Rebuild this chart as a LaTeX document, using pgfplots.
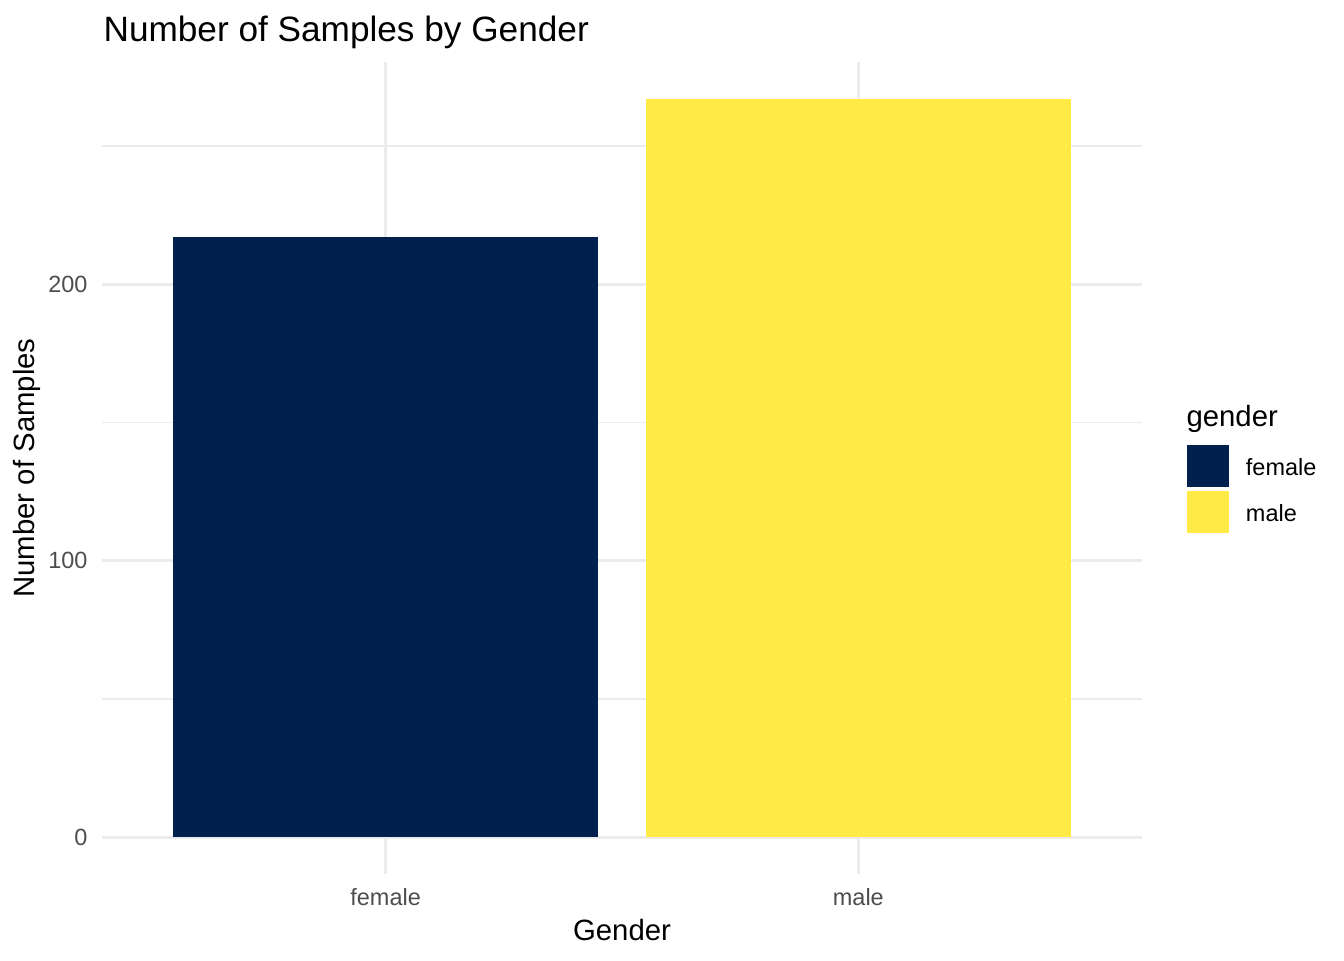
\documentclass[border=0pt]{standalone}
\usepackage{pgfplots}
\pgfplotsset{compat=1.18}
\usepackage{fontspec}
\setmainfont{Liberation Sans}
\definecolor{cfemale}{HTML}{00204D}
\definecolor{cmale}{HTML}{FFEA46}
\definecolor{gridc}{HTML}{EBEBEB}
\definecolor{tickc}{HTML}{4D4D4D}
\begin{document}
\begin{tikzpicture}
\begin{axis}[
  at={(38.25pt,32.25pt)}, anchor=south west,
  scale only axis, width=390pt, height=304.5pt,
  xmin=-0.6, xmax=1.6, ymin=-13.35, ymax=280.35,
  ybar, bar width=0.9, bar shift=0pt,
  xtick={0,1}, xticklabels={female,male},
  ytick={0,100,200}, minor ytick={50,150,250},
  xmajorgrids, ymajorgrids, yminorgrids,
  major grid style={color=gridc, line width=1.07pt},
  minor grid style={color=gridc, line width=0.53pt},
  axis line style={draw=none},
  major tick length=0pt, minor tick length=0pt,
  tick style={draw=none},
  /pgf/number format/assume math mode=true,
  ticklabel style={font=\fontsize{8.8}{10}\selectfont, text=tickc, inner sep=0pt},
  yticklabel style={anchor=east, xshift=-5.25pt},
  xticklabel style={anchor=north, yshift=-5.25pt},
  xlabel={Gender}, ylabel={Number of Samples},
  label style={font=\fontsize{11}{13}\selectfont},
  xlabel style={at={(axis description cs:0.5,0)}, anchor=center, yshift=-21pt},
  ylabel style={at={(axis description cs:0,0.5)}, anchor=center, yshift=28.1pt},
  title={Number of Samples by Gender},
  title style={font=\fontsize{13.2}{15}\selectfont, at={(axis description cs:0,1)}, anchor=base west, yshift=1.5pt, inner sep=0pt, xshift=0.4pt},
  legend style={at={(axis description cs:1.0433,0.5283)}, anchor=north west, draw=none, fill=none, inner sep=0pt, outer sep=0pt,
    font=\fontsize{8.8}{10}\selectfont, row sep=1.5pt,
    nodes={inner sep=0pt, anchor=west}},
  legend cell align=left,
  legend image code/.code={\fill[#1] (0pt,-7.875pt) rectangle (15.75pt,7.875pt); \path (22.1pt,0pt);},
  clip=false,
]
\addplot[fill=cfemale, draw=none] coordinates {(0,217)};
\addlegendentry{\rule{0pt}{8.5pt}female}
\addplot[fill=cmale, draw=none] coordinates {(1,267)};
\addlegendentry{\rule{0pt}{8.5pt}male}
\node[anchor=base west, inner sep=0pt, font=\fontsize{11}{13}\selectfont] at (axis description cs:1.0423,0.5517) {gender};
\end{axis}
\pgfresetboundingbox
\path[use as bounding box] (0,0) rectangle (504pt,360pt);
\end{tikzpicture}
\end{document}
